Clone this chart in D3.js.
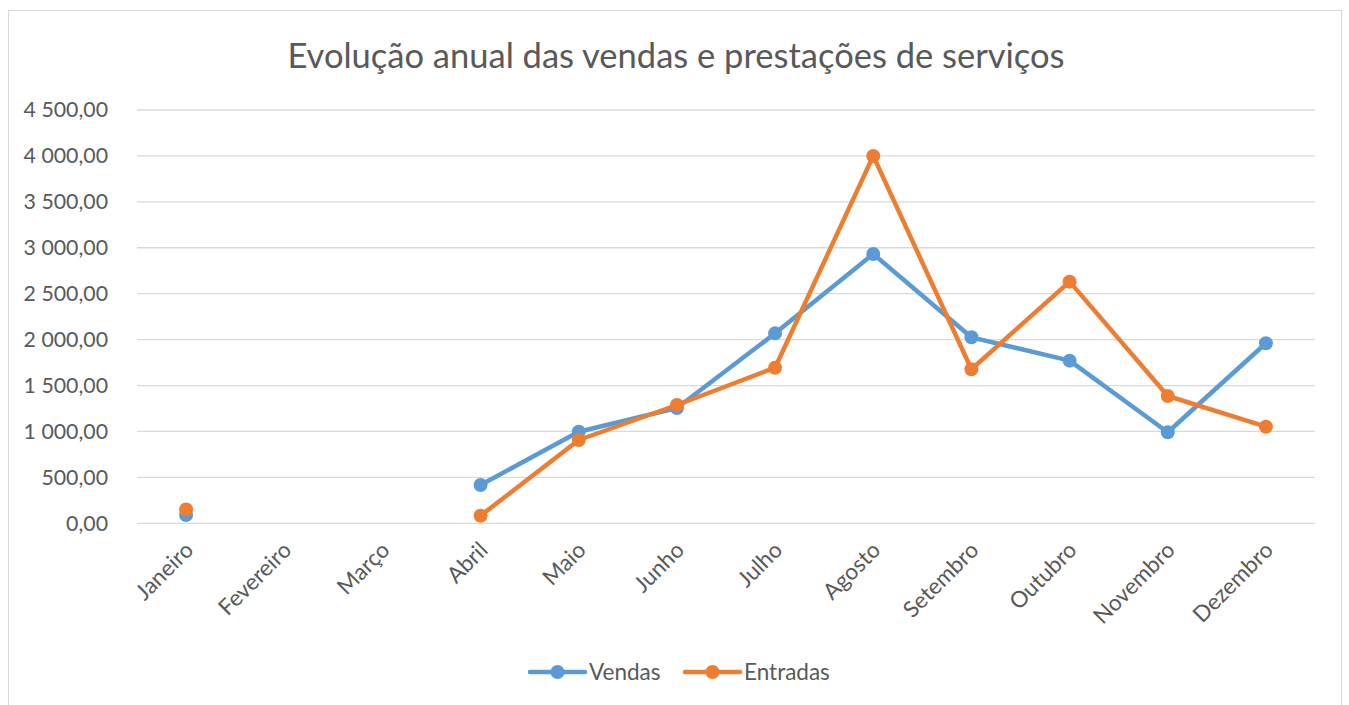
<!DOCTYPE html>
<html><head><meta charset="utf-8">
<script src="https://cdn.jsdelivr.net/npm/d3@7"></script>
<style>
html,body{margin:0;padding:0;background:#fff;}
svg{display:block;font-family:Lato,"Open Sans",sans-serif;}
</style></head>
<body>
<svg id="chart" width="1349" height="705"></svg>
<script>
const title = "Evolução anual das vendas e prestações de serviços";
const months = ["Janeiro","Fevereiro","Março","Abril","Maio","Junho","Julho","Agosto","Setembro","Outubro","Novembro","Dezembro"];
const vendas   = [90, null, null, 417, 997, 1255, 2068, 2932, 2025, 1771, 991, 1960];
const entradas = [150, null, null, 83, 907, 1288, 1694, 4000, 1677, 2631, 1386, 1052];
const yTicks = [0,500,1000,1500,2000,2500,3000,3500,4000,4500];
const seriesNames = ["Vendas","Entradas"];
const seriesColors = ["#5B9BD5","#ED7D31"];

const svg = d3.select("#chart");
const plot = {left:137, right:1315, top:110, bottom:523.3};

// outer border
svg.append("rect").attr("x",8.5).attr("y",10.5).attr("width",1333).attr("height",720)
  .attr("fill","#fff").attr("stroke","#D9D9D9").attr("stroke-width",1);

const x = d3.scaleBand().domain(months).range([plot.left, plot.right]).padding(0);
const y = d3.scaleLinear().domain([0,4500]).range([plot.bottom, plot.top]);
const cx = m => x(m) + x.bandwidth()/2;

const fmt = v => {
  const s = v.toFixed(2).replace(".", ",");
  const [int, dec] = s.split(",");
  return int.replace(/\B(?=(\d{3})+(?!\d))/g, " ") + "," + dec;
};

// gridlines
svg.append("g").selectAll("line").data(yTicks).join("line")
  .attr("x1", plot.left).attr("x2", plot.right)
  .attr("y1", d => y(d)).attr("y2", d => y(d))
  .attr("stroke","#D9D9D9").attr("stroke-width",1.3);

// y labels
svg.append("g").selectAll("text").data(yTicks).join("text")
  .attr("x", 108).attr("y", d => y(d)).attr("dy","0.35em")
  .attr("text-anchor","end").attr("fill","#595959").attr("font-size","21.3px")
  .text(fmt);

// x labels
svg.append("g").selectAll("text").data(months).join("text")
  .attr("transform", d => `translate(${cx(d)+3},${546}) rotate(-45)`)
  .attr("text-anchor","end").attr("dy","0.35em")
  .attr("fill","#595959").attr("font-size","22.5px")
  .text(d => d);

// title
svg.append("text").attr("x", 676).attr("y", 68).attr("text-anchor","middle")
  .attr("fill","#595959").attr("font-size","34.5px").text(title);

const data = [vendas, entradas];
const line = d3.line().defined(d => d.v != null).x(d => cx(d.m)).y(d => y(d.v));

data.forEach((vals, i) => {
  const pts = months.map((m, j) => ({m, v: vals[j]}));
  const g = svg.append("g");
  g.append("path").datum(pts).attr("d", line).attr("fill","none")
    .attr("stroke", seriesColors[i]).attr("stroke-width",4.5)
    .attr("stroke-linejoin","round").attr("stroke-linecap","round");
  g.selectAll("circle").data(pts.filter(d => d.v != null)).join("circle")
    .attr("cx", d => cx(d.m)).attr("cy", d => y(d.v)).attr("r",7)
    .attr("fill", seriesColors[i]);
});

// legend
const legendX = [530, 685];
const lg = svg.append("g");
seriesNames.forEach((n, i) => {
  const lx = legendX[i], ly = 672;
  lg.append("line").attr("x1", lx).attr("x2", lx+55).attr("y1", ly).attr("y2", ly)
    .attr("stroke", seriesColors[i]).attr("stroke-width",4.5).attr("stroke-linecap","round");
  lg.append("circle").attr("cx", lx+27.5).attr("cy", ly).attr("r",7).attr("fill", seriesColors[i]);
  lg.append("text").attr("x", lx+59).attr("y", ly).attr("dy","0.35em")
    .attr("fill","#595959").attr("font-size","22.5px").text(n);
});
</script>
</body></html>
